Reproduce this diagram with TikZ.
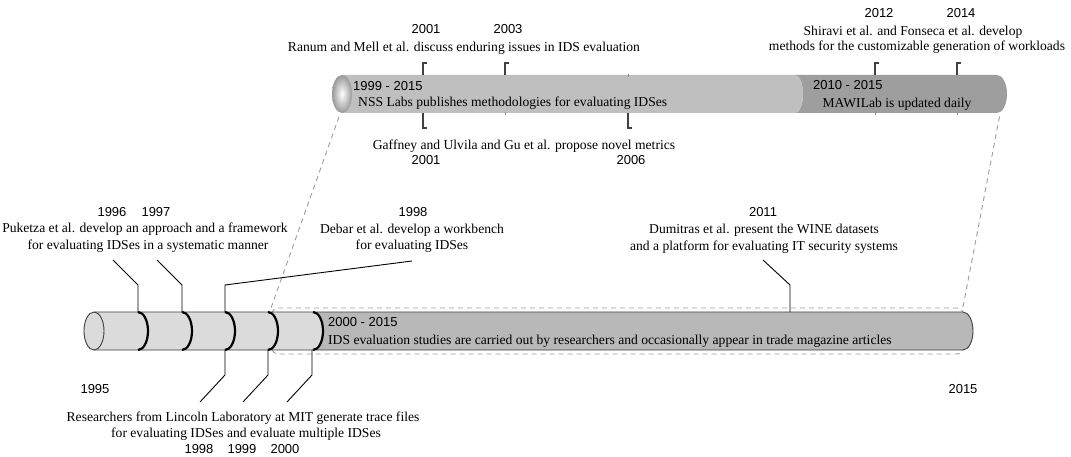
\documentclass[tikz,border=0pt]{standalone}
\usepackage{fontspec}
\setmainfont{Liberation Serif}
\newfontfamily\yearfont{Liberation Sans}
\definecolor{lightcyl}{gray}{0.86}
\definecolor{darkcyl}{gray}{0.72}
\definecolor{toplight}{gray}{0.75}
\definecolor{topdark}{gray}{0.62}
\definecolor{endgray}{gray}{0.6}
\definecolor{dashgray}{gray}{0.62}
\definecolor{outl}{gray}{0.25}
\begin{document}
\begin{tikzpicture}[x=1pt,y=-1pt,
  txt/.style={font=\fontsize{13.6}{16}\selectfont, inner sep=0pt, anchor=base},
  txtl/.style={txt, anchor=base west},
  yr/.style={font=\yearfont\fontsize{13}{15}\selectfont, inner sep=0pt, anchor=base},
  yrl/.style={yr, anchor=base west},
  conn/.style={draw=black, line width=0.9pt},
  band/.style={draw=black, line width=2.2pt},
  tickmark/.style={draw=black!75, line width=1.1pt},
  stub/.style={draw=black!45, line width=1pt},
  dashbox/.style={draw=dashgray, dash pattern=on 5pt off 4pt, line width=0.9pt},
  rarc/.style={x radius=10, y radius=19}
]
\useasboundingbox (0,0) rectangle (1071,457);
\fill[white] (0,0) rectangle (1071,457);

% ---------- dashed projection ----------
\draw[dashbox, rounded corners=6pt] (272,308) rectangle (963,354);
\coordinate (boxNW) at (271,308);
\coordinate (boxNE) at (963,307);
\coordinate (topSW) at (340,114);
\coordinate (topSE) at (1000,114);
\draw[dashbox] (boxNW) -- (topSW);
\draw[dashbox] (boxNE) -- (topSE);

% ---------- bottom cylinder ----------
\fill[darkcyl] (313,312) arc[start angle=-90,end angle=90,rarc] -- (963,350)
  arc[start angle=90,end angle=-90,rarc] -- cycle;
\fill[lightcyl] (94,312) -- (313,312) arc[start angle=-90,end angle=90,rarc] -- (94,350) -- cycle;
\draw[outl, line width=0.9pt] (94,312) -- (963,312) arc[start angle=-90,end angle=90,rarc] -- (94,350);
\filldraw[fill=lightcyl, draw=outl, line width=0.9pt] (94,331) ellipse[rarc];
\foreach \bx in {138,182,225,268,313}
  \draw[band] (\bx,312) arc[start angle=-90,end angle=90,rarc];

% ---------- top cylinder ----------
\fill[topdark] (795,75) arc[start angle=-90,end angle=90,x radius=8,y radius=19] -- (997,113)
  arc[start angle=90,end angle=-90,rarc] -- cycle;
\fill[toplight] (342,75) -- (795,75) arc[start angle=-90,end angle=90,x radius=8,y radius=19] -- (342,113) -- cycle;
\shade[inner color=white, outer color=endgray] (342,94) ellipse[rarc];

% ticks on top cylinder
\draw[tickmark] (427,63) -- (423,63) -- (423,75);
\draw[tickmark] (509,63) -- (505,63) -- (505,75);
\draw[tickmark] (879,63) -- (875,63) -- (875,75);
\draw[tickmark] (961,63) -- (957,63) -- (957,75);
\draw[tickmark] (423,113) -- (423,128) -- (427,128);
\draw[tickmark] (628,113) -- (628,128) -- (632,128);
\draw[stub] (628,74) -- (628,77);
\draw[stub] (505,112) -- (505,115);
\draw[stub] (875,112) -- (875,115);
\draw[stub] (957,112) -- (957,115);

% ---------- top texts ----------
\node[yr] (t2001a) at (426,34) {2001};
\node[yr] (t2003) at (508,34) {2003};
\node[txt] (ranum) at (464,52) {Ranum and Mell et al. discuss enduring issues in IDS evaluation};
\node[yrl] (nssyr) at (353,91) {1999 - 2015};
\node[txtl] (nss) at (358,107) {NSS Labs publishes methodologies for evaluating IDSes};
\node[txt] (gaff) at (524,150) {Gaffney and Ulvila and Gu et al. propose novel metrics};
\node[yr] (t2001b) at (426,165) {2001};
\node[yr] (t2006) at (631,165) {2006};
\node[yr] (t2012) at (879,18) {2012};
\node[yr] (t2014) at (961,18) {2014};
\node[txt] (shir1) at (913,36) {Shiravi et al. and Fonseca et al. develop};
\node[txt] (shir2) at (917,51) {methods for the customizable generation of workloads};
\node[yrl] (mawiyr) at (813,90) {2010 - 2015};
\node[txt] (mawi) at (897,108) {MAWILab is updated daily};

% ---------- bottom texts ----------
\node[yr] (t1996) at (112,217) {1996};
\node[yr] (t1997) at (156,217) {1997};
\node[txt] (puk1) at (145,233) {Puketza et al. develop an approach and a framework};
\node[txt] (puk2) at (148,250) {for evaluating IDSes in a systematic manner};
\node[yr] (t1998d) at (413,217) {1998};
\node[txt] (deb1) at (412,234) {Debar et al. develop a workbench};
\node[txt] (deb2) at (412,250) {for evaluating IDSes};
\node[yr] (t2011) at (763,217) {2011};
\node[txt] (dum1) at (764,234) {Dumitras et al. present the WINE datasets};
\node[txt] (dum2) at (764,251) {and a platform for evaluating IT security systems};
\node[yrl] (idsyr) at (328,326) {2000 - 2015};
\node[txtl] (ids) at (328,344) {IDS evaluation studies are carried out by researchers and occasionally appear in trade magazine articles};
\node[yr] (t1995) at (95,393) {1995};
\node[yr] (t2015) at (963,393) {2015};
\node[txt] (linc1) at (243,421) {Researchers from Lincoln Laboratory at MIT generate trace files};
\node[txt] (linc2) at (246,437) {for evaluating IDSes and evaluate multiple IDSes};
\node[yr] (t1998l) at (199,453) {1998};
\node[yr] (t1999) at (242,453) {1999};
\node[yr] (t2000) at (285,453) {2000};

% ---------- connectors ----------
\coordinate (a96) at (113,260); \coordinate (b96) at (138,285); \coordinate (c96) at (138,312);
\coordinate (a97) at (157,260); \coordinate (b97) at (182,285); \coordinate (c97) at (182,312);
\coordinate (adb) at (412,261); \coordinate (bdb) at (225,285); \coordinate (cdb) at (225,312);
\coordinate (awn) at (763,260); \coordinate (bwn) at (790,285); \coordinate (cwn) at (790,312);
\coordinate (a98) at (200,402); \coordinate (b98) at (225,375); \coordinate (c98) at (225,350);
\coordinate (a99) at (243,402); \coordinate (b99) at (268,375); \coordinate (c99) at (268,350);
\coordinate (a00) at (287,402); \coordinate (b00) at (312,375); \coordinate (c00) at (312,350);
\draw[conn] (a96) -- (b96) -- (c96);
\draw[conn] (a97) -- (b97) -- (c97);
\draw[conn] (adb) -- (bdb) -- (cdb);
\draw[conn] (awn) -- (bwn) -- (cwn);
\draw[conn] (a98) -- (b98) -- (c98);
\draw[conn] (a99) -- (b99) -- (c99);
\draw[conn] (a00) -- (b00) -- (c00);
\end{tikzpicture}
\end{document}
